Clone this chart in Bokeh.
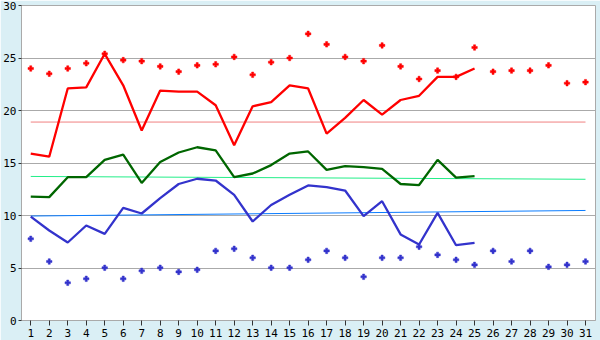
from bokeh.plotting import figure
from bokeh.models import FixedTicker, Range1d
from bokeh.embed import file_html
from bokeh.resources import INLINE

days = list(range(1, 32))
line_days = list(range(1, 26))

red_line = [15.9, 15.6, 22.1, 22.2, 25.4, 22.4, 18.1, 21.9, 21.8, 21.8,
            20.5, 16.7, 20.4, 20.8, 22.4, 22.1, 17.8, 19.3, 21.0, 19.6,
            21.0, 21.4, 23.2, 23.2, 24.0]
red_pts = [24.0, 23.5, 24.0, 24.5, 25.4, 24.8, 24.7, 24.2, 23.7, 24.3,
           24.4, 25.1, 23.4, 24.6, 25.0, 27.3, 26.3, 25.1, 24.7, 26.2,
           24.2, 23.0, 23.8, 23.2, 26.0, 23.7, 23.8, 23.8, 24.3, 22.6, 22.7]
green_line = [11.8, 11.75, 13.65, 13.65, 15.3, 15.8, 13.1, 15.1, 16.0, 16.5,
              16.2, 13.65, 14.0, 14.8, 15.9, 16.1, 14.35, 14.7, 14.6, 14.45,
              13.0, 12.9, 15.3, 13.6, 13.75]
blue_line = [9.9, 8.57, 7.43, 9.05, 8.25, 10.73, 10.19, 11.65, 13.0, 13.5,
             13.33, 11.97, 9.43, 11.0, 11.97, 12.86, 12.7, 12.38, 9.94, 11.36,
             8.2, 7.24, 10.25, 7.17, 7.4]
blue_pts = [7.78, 5.62, 3.59, 3.97, 5.02, 3.97, 4.73, 5.02, 4.63, 4.83,
            6.63, 6.83, 5.97, 5.02, 5.02, 5.78, 6.63, 5.97, 4.16, 5.97,
            5.97, 7.02, 6.25, 5.78, 5.3, 6.63, 5.62, 6.63, 5.11, 5.3, 5.62]
ref_days = [1, 31]
red_ref = [18.9, 18.9]
green_ref = [13.72, 13.45]
blue_ref = [9.95, 10.48]
x_ticks = list(range(1, 32))
y_ticks = [0, 5, 10, 15, 20, 25, 30]

p = figure(width=600, height=340, output_backend="svg", toolbar_location=None,
           x_range=Range1d(0.5, 31.54), y_range=Range1d(0, 30),
           min_border_left=20, min_border_right=5, min_border_top=5,
           min_border_bottom=20)
p.background_fill_color = "white"
p.border_fill_color = "#daeff5"
p.outline_line_color = "#aaaaaa"
p.xgrid.visible = False
p.ygrid.grid_line_color = "#aaaaaa"
p.ygrid.ticker = FixedTicker(ticks=y_ticks)

for ax, ticks in ((p.xaxis, x_ticks), (p.yaxis, y_ticks)):
    ax.ticker = FixedTicker(ticks=ticks)
    ax.axis_line_color = "#aaaaaa"
    ax.major_tick_line_color = "#333333"
    ax.minor_tick_line_color = None
    ax.major_tick_in = 0
    ax.major_label_text_font = "DejaVu Sans Mono"
    ax.major_label_text_font_size = "11px"
    ax.major_label_text_color = "#000000"
p.xaxis.major_tick_out = 5
p.xaxis.major_label_standoff = 3
p.yaxis.major_tick_out = 3
p.yaxis.major_label_standoff = 2

p.line(ref_days, red_ref, line_color="#f08080", line_width=1)
p.line(ref_days, green_ref, line_color="#22ee88", line_width=1)
p.line(ref_days, blue_ref, line_color="#0a7cff", line_width=1)

p.line(line_days, red_line, line_color="#ff0000", line_width=2.3)
p.line(line_days, green_line, line_color="#006600", line_width=2.3)
p.line(line_days, blue_line, line_color="#3333cc", line_width=2.3)

p.scatter(days, red_pts, marker="plus", size=5.5, fill_color="#ff0000", line_color="#ff0000", line_width=0.5)
p.scatter(days, blue_pts, marker="plus", size=5.5, fill_color="#3333cc", line_color="#3333cc", line_width=0.5)

open("out.html", "w").write(file_html(p, INLINE))
